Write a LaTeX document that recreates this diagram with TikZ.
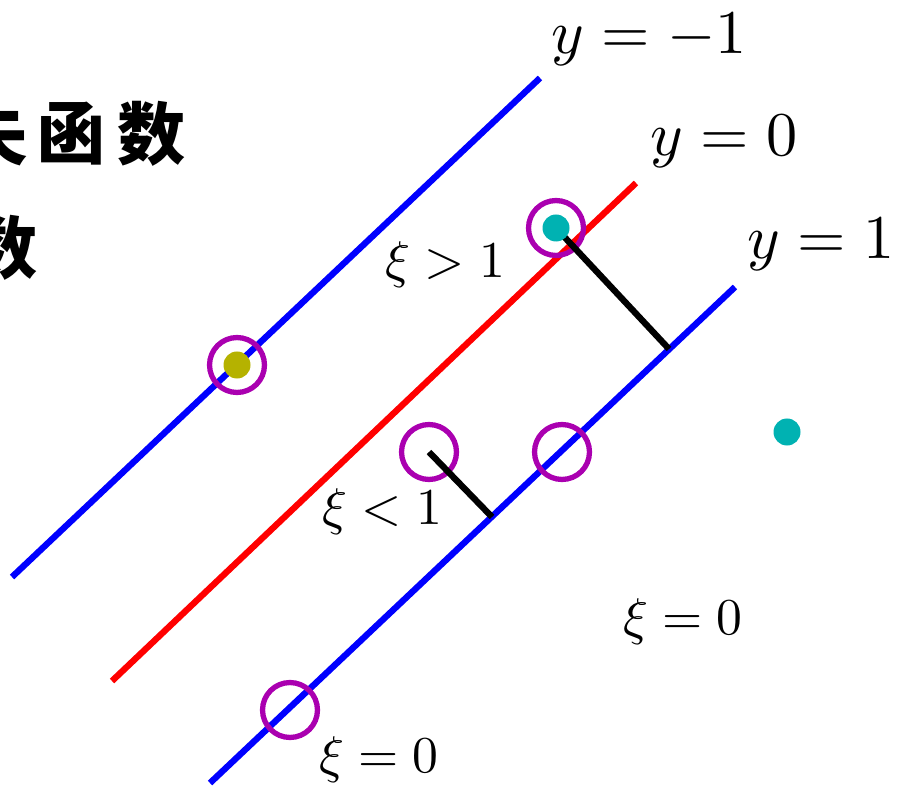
\documentclass[tikz,border=0pt]{standalone}
\usepackage{fontspec}
\newfontfamily\cjk{Noto Sans CJK SC}
\definecolor{ringc}{RGB}{170,0,176}
\definecolor{tealc}{RGB}{0,178,178}
\definecolor{olivec}{RGB}{181,178,0}
\tikzset{
  lab/.style={inner sep=0pt, scale=4.4},
  ylab/.style={inner sep=0pt, scale=5.3},
  han/.style={inner sep=0pt, font=\cjk\bfseries\fontsize{58}{64}\selectfont},
  ring/.style={circle, draw=ringc, line width=4.5pt, minimum size=46.8pt, inner sep=0pt},
  dotp/.style={circle, fill=#1, minimum size=23pt, inner sep=0pt},
  hyper/.style={line width=5.4pt},
  slack/.style={line width=5.4pt, black},
}
\begin{document}
\begin{tikzpicture}[x=0.8517pt, y=-0.8517pt]
\useasboundingbox (0,0) rectangle (898,787);
% Chinese text (cropped at left edge)
\node[han] (h1) at (-6,134) {失};
\node[han] (h2) at (72,134) {函};
\node[han] (h3) at (152,134) {数};
\node[han] (h4) at (4,248) {数};
% hyperplanes
\coordinate (am) at (12,577); \coordinate (bm) at (540,78);
\coordinate (a0) at (112,681); \coordinate (b0) at (636,183);
\coordinate (ap) at (210,783); \coordinate (bp) at (735,287);
\draw[hyper, blue] (am) -- (bm);
\draw[hyper, red] (a0) -- (b0);
\draw[hyper, blue] (ap) -- (bp);
% slack segments
\coordinate (f1) at (669,349);
\coordinate (f2) at (492,517);
\node[ring] (r1) at (237,365) {};
\node[ring] (r2) at (556,228) {};
\node[ring] (r3) at (429,452) {};
\node[ring] (r4) at (562,452) {};
\node[ring] (r5) at (290,710) {};
\draw[slack] (r2.center) -- (f1);
\draw[slack] (r3.center) -- (f2);
\node[dotp=olivec] (d1) at (r1.center) {};
\node[dotp=tealc] (d2) at (r2.center) {};
\node[dotp=tealc] (d3) at (787,432) {};
% labels
\node[ylab] (ly1) at (649,40) {$y=-1$};
\node[ylab] (ly0) at (724,142) {$y=0$};
\node[ylab] (lyp) at (821,245) {$y=1$};
\node[lab] (lx1) at (445,265) {$\xi>1$};
\node[lab] (lx2) at (382,512) {$\xi<1$};
\node[lab] (lx3) at (683,622) {$\xi=0$};
\node[lab] (lx4) at (379,760) {$\xi=0$};
\end{tikzpicture}
\end{document}
